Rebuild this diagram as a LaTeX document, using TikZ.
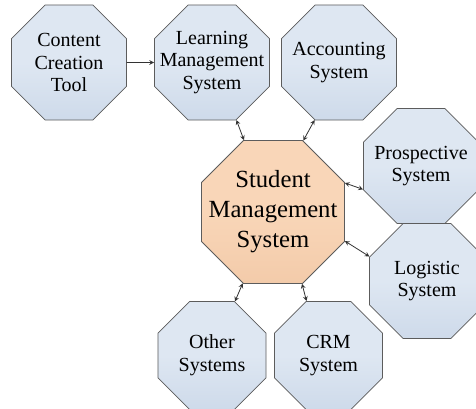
\documentclass[tikz,border=0pt]{standalone}
\usepackage{fontspec}
\setmainfont{Liberation Serif}
\newfontfamily\octfont{Liberation Serif}
\usetikzlibrary{shapes.geometric}
\definecolor{octblue}{RGB}{222,231,242}
\definecolor{octbluedark}{RGB}{206,218,234}
\definecolor{octpeach}{RGB}{249,214,184}
\definecolor{octpeachdark}{RGB}{243,203,170}
\definecolor{octline}{RGB}{92,92,92}
\begin{document}
\begin{tikzpicture}[>=stealth,line join=round,line cap=round,x=0.75pt,y=-0.75pt,
  oct/.style={regular polygon,regular polygon sides=8,draw=octline,line width=.6pt,
    inner sep=0pt,minimum size=93.4pt,
    top color=octblue,bottom color=octbluedark,middle color=octblue},
  smalloct/.style={oct,minimum size=87.7pt},
  bigoct/.style={oct,minimum size=116pt,
    top color=octpeach,bottom color=octpeachdark,middle color=octpeach},
  txt/.style={align=center,inner sep=0pt,font=\octfont\fontsize{15}{17}\selectfont},
  bigtxt/.style={align=center,inner sep=0pt,font=\octfont\fontsize{18.5}{22.5}\selectfont},
  link/.style={<->,draw=black!80,line width=.6pt}]
\useasboundingbox (0,0) rectangle (476,409);
% outer systems
\node[oct,label={[txt]center:Content\\Creation\\Tool}] (cct) at (69,62.5) {};
\node[oct,label={[txt]center:Learning\\Management\\System}] (lms) at (212,62.5) {};
\node[oct,label={[txt]center:Accounting\\System}] (acs) at (339,62.5) {};
\node[oct,label={[txt]center:Prospective\\System}] (prs) at (421,166) {};
\node[oct,label={[txt]center:Logistic\\System}] (lgs) at (427,281) {};
\node[smalloct,label={[txt]center:Other\\Systems}] (oth) at (212,355.5) {};
\node[smalloct,label={[txt]center:CRM\\System}] (crm) at (328.5,355.5) {};
% centre
\node[bigoct,label={[bigtxt]center:Student\\Management\\System}] (sms) at (273,212) {};
% links
\draw[->,draw=black!80,line width=.6pt] (cct.east) -- (lms.west);
\draw[link] (lms.-67.5) -- (sms.112.5);
\draw[link] (acs.247.5) -- (sms.67.5);
\draw[link] (sms.22.5) -- (prs.202.5);
\draw[link] (sms.-22.5) -- (lgs.157.5);
\draw[link] (sms.247.5) -- (oth.67.5);
\draw[link] (sms.292.5) -- (crm.112.5);
\end{tikzpicture}
\end{document}
